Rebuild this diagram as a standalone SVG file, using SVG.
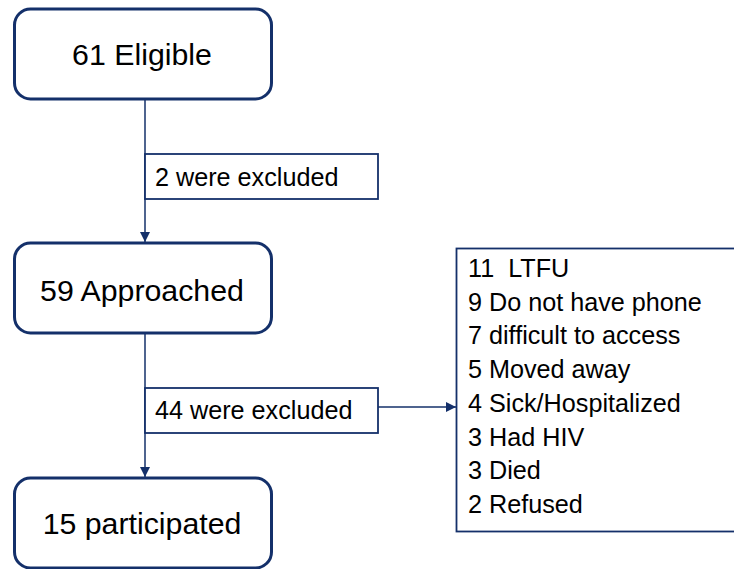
<svg xmlns="http://www.w3.org/2000/svg" width="734" height="569" viewBox="0 0 734 569">
  <defs>
    <style>
      .stage { fill: #ffffff; stroke: #14306a; stroke-width: 3; }
      .note { fill: #ffffff; stroke: #14306a; stroke-width: 1.8; }
      .link { fill: none; stroke: #14306a; stroke-width: 1.5; }
      .big { font-family: "Liberation Sans", Arial, sans-serif; font-size: 30.3px; fill: #000000; text-anchor: middle; }
      .small { font-family: "Liberation Sans", Arial, sans-serif; font-size: 25.2px; fill: #000000; }
    </style>
    <marker id="arrow" viewBox="0 0 10 10" refX="10" refY="5" markerWidth="10" markerHeight="10" markerUnits="userSpaceOnUse" orient="auto">
      <path d="M0,0 L10,5 L0,10 Z" fill="#14306a"/>
    </marker>
  </defs>

  <!-- connectors between stages -->
  <g id="connectors">
    <line class="link" x1="145" y1="99" x2="145" y2="242" marker-end="url(#arrow)"/>
    <line class="link" x1="145" y1="333" x2="145" y2="477" marker-end="url(#arrow)"/>
    <line class="link" x1="378" y1="407" x2="456" y2="407" marker-end="url(#arrow)"/>
  </g>

  <g id="eligible">
    <rect class="stage" x="14.5" y="9" width="257" height="90" rx="16"/>
    <text class="big" x="142" y="65">61 Eligible</text>
  </g>

  <g id="excluded-2">
    <rect class="note" x="145" y="154" width="233" height="45"/>
    <text class="small" x="155" y="186">2 were excluded</text>
  </g>

  <g id="approached">
    <rect class="stage" x="14.5" y="243" width="257" height="90" rx="16"/>
    <text class="big" x="142" y="301">59 Approached</text>
  </g>

  <g id="excluded-44">
    <rect class="note" x="145" y="388" width="233" height="45"/>
    <text class="small" x="155" y="419">44 were excluded</text>
  </g>

  <g id="reasons">
    <rect class="note" x="456.5" y="248.5" width="300" height="283"/>
    <text class="small" x="468" xml:space="preserve">
      <tspan x="468" y="277">11  LTFU</tspan>
      <tspan x="468" y="310.7">9 Do not have phone</tspan>
      <tspan x="468" y="344.4">7 difficult to access</tspan>
      <tspan x="468" y="378.1">5 Moved away</tspan>
      <tspan x="468" y="411.8">4 Sick/Hospitalized</tspan>
      <tspan x="468" y="445.5">3 Had HIV</tspan>
      <tspan x="468" y="479.2">3 Died</tspan>
      <tspan x="468" y="513">2 Refused</tspan>
    </text>
  </g>

  <g id="participated">
    <rect class="stage" x="14.5" y="478" width="257" height="90" rx="16"/>
    <text class="big" x="142" y="534">15 participated</text>
  </g>
</svg>
